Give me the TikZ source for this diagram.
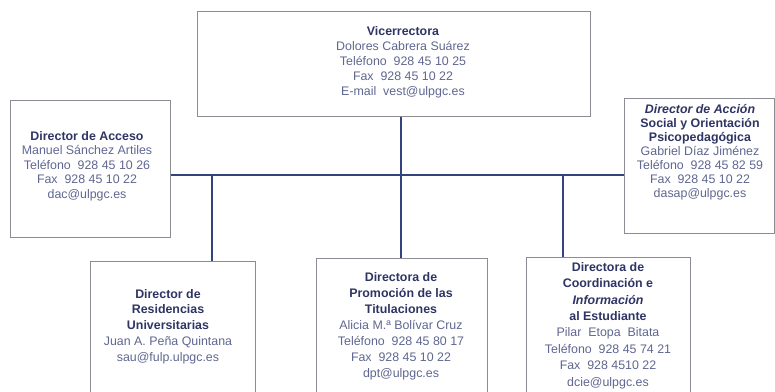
\documentclass[tikz,border=0pt]{standalone}
\usepackage{fontspec}
\setmainfont{Liberation Sans}
\definecolor{titlec}{HTML}{2E3463}
\definecolor{bodyc}{HTML}{5F6690}
\definecolor{linec}{HTML}{34427E}
\definecolor{boxc}{HTML}{8C8C94}
\begin{document}
\begin{tikzpicture}[x=1pt,y=-1pt,
  box/.style={draw=boxc,line width=0.8pt,anchor=north west,inner sep=0pt},
  info/.style={align=center,text=bodyc,inner sep=0pt,font=\fontsize{12.4}{#1}\selectfont},
  conn/.style={draw=linec,line width=2.4pt}]
\useasboundingbox (0,0) rectangle (775,391);
% boxes
\node[box,minimum width=393pt,minimum height=105pt] (vic) at (197,11) {};
\node[box,minimum width=160pt,minimum height=137pt] (acc) at (10,100) {};
\node[box,minimum width=150pt,minimum height=135pt] (asp) at (624,98) {};
\node[box,minimum width=165pt,minimum height=140pt] (res) at (90,261) {};
\node[box,minimum width=171pt,minimum height=140pt] (pro) at (316,258) {};
\node[box,minimum width=164pt,minimum height=140pt] (coo) at (526,257) {};
% texts
\node[info=15] (tvic) at (403,62) {\textcolor{titlec}{\textbf{Vicerrectora}}\\Dolores Cabrera Suárez\\Teléfono\ \ 928 45 10 25\\Fax\ \ 928 45 10 22\\E-mail\ \ vest@ulpgc.es};
\node[info=14.5] (tacc) at (87,166) {\textcolor{titlec}{\textbf{Director de Acceso}}\\Manuel Sánchez Artiles\\Teléfono\ \ 928 45 10 26\\Fax\ \ 928 45 10 22\\dac@ulpgc.es};
\node[info=14] (tasp) at (700,152) {\textcolor{titlec}{\textbf{\textit{Director de Acción}}}\\\textcolor{titlec}{\textbf{Social y Orientación}}\\\textcolor{titlec}{\textbf{Psicopedagógica}}\\Gabriel Díaz Jiménez\\Teléfono\ \ 928 45 82 59\\Fax\ \ 928 45 10 22\\dasap@ulpgc.es};
\node[info=15.8] (tres) at (168,326.5) {\textcolor{titlec}{\textbf{Director de}}\\\textcolor{titlec}{\textbf{Residencias}}\\\textcolor{titlec}{\textbf{Universitarias}}\\Juan A.\ Peña Quintana\\sau@fulp.ulpgc.es};
\node[info=16] (tpro) at (401,326.5) {\textcolor{titlec}{\textbf{Directora de}}\\\textcolor{titlec}{\textbf{Promoción de las}}\\\textcolor{titlec}{\textbf{Titulaciones}}\\Alicia M.ª Bolívar Cruz\\Teléfono\ \ 928 45 80 17\\Fax\ \ 928 45 10 22\\dpt@ulpgc.es};
\node[info=16.4] (tcoo) at (608,325.5) {\textcolor{titlec}{\textbf{Directora de}}\\\textcolor{titlec}{\textbf{Coordinación e}}\\\textcolor{titlec}{\textbf{\textit{Información}}}\\\textcolor{titlec}{\textbf{al Estudiante}}\\Pilar\ \ Etopa\ \ Bitata\\Teléfono\ \ 928 45 74 21\\Fax\ \ 928 4510 22\\dcie@ulpgc.es};
% connectors
\coordinate (j0) at (401,175);
\coordinate (j1) at (212,175);
\coordinate (j2) at (563,175);
\draw[conn] (acc.east |- j0) -- (asp.west |- j0);
\draw[conn] (j0 |- vic.south) -- (j0 |- pro.north);
\draw[conn] (j1) -- (j1 |- res.north);
\draw[conn] (j2) -- (j2 |- coo.north);
\end{tikzpicture}
\end{document}
